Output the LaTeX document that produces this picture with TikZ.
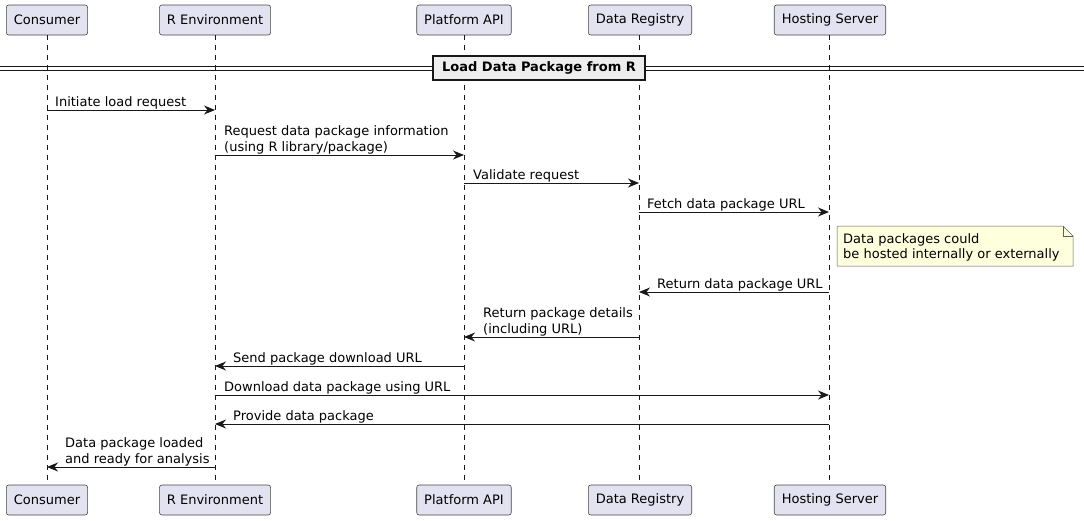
\documentclass[tikz,border=0pt]{standalone}
\usepackage{fontspec}
\setmainfont{DejaVu Sans}
\usetikzlibrary{arrows.meta}
\definecolor{partfill}{HTML}{E2E2F0}
\definecolor{linecol}{HTML}{181818}
\definecolor{notefill}{HTML}{FEFFDD}
\definecolor{grpfill}{HTML}{EEEEEE}

\begin{document}
\begin{tikzpicture}[x=1pt, y=-1pt,
    part/.style={draw=linecol!80, fill=partfill, rounded corners=2.5pt, minimum height=30pt, inner xsep=7.5pt, line width=0.6pt, font=\fontsize{13}{16}\selectfont},
    life/.style={draw=linecol, dash pattern=on 5pt off 5pt, line width=0.5pt},
    msg/.style={-{Stealth[length=11pt, width=9pt, inset=3.5pt]}, draw=linecol, line width=1pt},
    lbl/.style={anchor=south west, inner sep=0pt, align=left, font=\fontsize{13}{16}\selectfont},
    grp/.style={draw=linecol, fill=grpfill, line width=1.5pt, minimum height=24pt, inner xsep=9pt, font=\fontsize{13}{16}\selectfont\bfseries},
    notebox/.style={draw=linecol!70, fill=notefill, line width=0.5pt}
  ]
    \useasboundingbox (0,0) rectangle (1084,520);

    % participants, top and bottom
    \node[part] (cons)  at (47,20)  {Consumer};
    \node[part] (renv)  at (215,20) {R Environment};
    \node[part] (api)   at (464,20) {Platform API};
    \node[part] (reg)   at (640,20) {Data Registry};
    \node[part] (host)  at (830,20) {Hosting Server};
    \node[part] (cons2) at (47,500)  {Consumer};
    \node[part] (renv2) at (215,500) {R Environment};
    \node[part] (api2)  at (464,500) {Platform API};
    \node[part] (reg2)  at (640,500) {Data Registry};
    \node[part] (host2) at (830,500) {Hosting Server};

    \draw[life] (cons) -- (cons2);
    \draw[life] (renv) -- (renv2);
    \draw[life] (api) -- (api2);
    \draw[life] ([xshift=-1pt]reg.south) -- ([xshift=-1pt]reg2.north);
    \draw[life] ([xshift=-1pt]host.south) -- ([xshift=-1pt]host2.north);

    % group divider
    \draw[linecol, line width=1pt] (0,66.5) -- (1084,66.5) (0,70) -- (1084,70);
    \node[grp] (load) at (539,68) {Load Data Package from R};

    % messages
    \draw[msg] (cons |- 0,110) -- (renv |- 0,110);
    \node[lbl] (m1) at (55,109) {Initiate load request};
    \draw[msg] (renv |- 0,155) -- (api |- 0,155);
    \node[lbl] (m2) at (224,154) {Request data package information\\(using R library/package)};
    \draw[msg] (api |- 0,183) -- (639,183);
    \node[lbl] (m3) at (473,182) {Validate request};
    \draw[msg] (639,212) -- (829,212);
    \node[lbl] (m4) at (647,211) {Fetch data package URL};

    % note
    \draw[notebox] (837,226) -- (1063,226) -- (1073,236) -- (1073,266) -- (837,266) -- cycle;
    \draw[notebox, fill=none] (1063,226) -- (1063,236) -- (1073,236);
    \node[anchor=north west, inner sep=0pt, align=left, font=\fontsize{13}{15.5}\selectfont] (note) at (843,233) {Data packages could\\be hosted internally or externally};

    \draw[msg] (829,292) -- (639,292);
    \node[lbl] (m5) at (657,291) {Return data package URL};
    \draw[msg] (639,337) -- (api |- 0,337);
    \node[lbl] (m6) at (483,336) {Return package details\\(including URL)};
    \draw[msg] (api |- 0,366) -- (renv |- 0,366);
    \node[lbl] (m7) at (233,365) {Send package download URL};
    \draw[msg] (renv |- 0,395) -- (829,395);
    \node[lbl] (m8) at (224,394) {Download data package using URL};
    \draw[msg] (829,424) -- (renv |- 0,424);
    \node[lbl] (m9) at (233,423) {Provide data package};
    \draw[msg] (renv |- 0,467) -- (cons |- 0,467);
    \node[lbl] (m10) at (65,466) {Data package loaded\\and ready for analysis};
  \end{tikzpicture}
\end{document}
